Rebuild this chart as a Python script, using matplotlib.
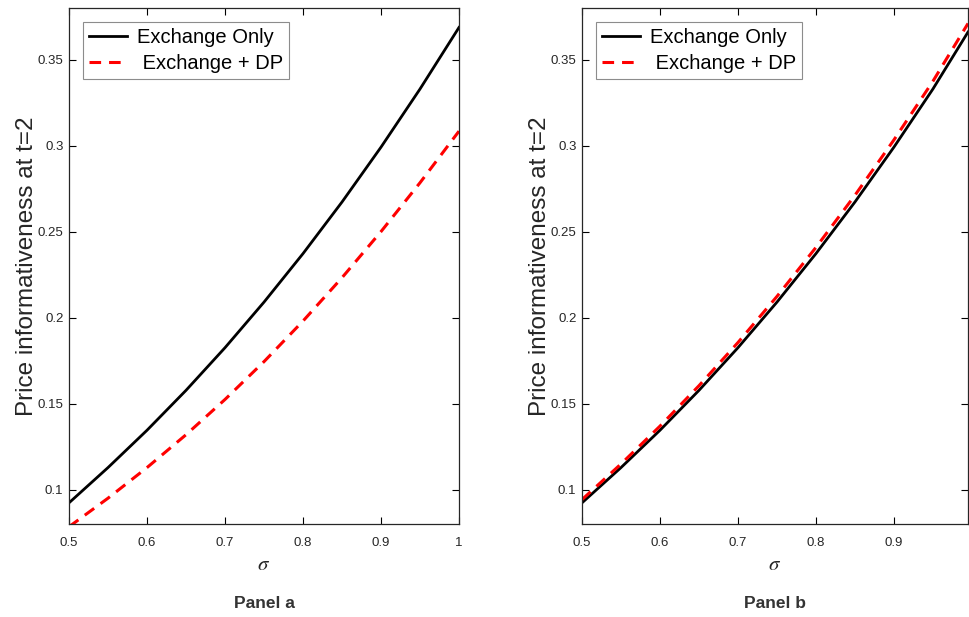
"""Price informativeness at t=2 versus sigma, two panels."""

import matplotlib
matplotlib.use("Agg")
import matplotlib.pyplot as plt

plt.rcParams["font.family"] = ["Liberation Sans", "DejaVu Sans"]
plt.rcParams["mathtext.fontset"] = "stix"

# values
sigma_a = [0.50, 0.55, 0.60, 0.65, 0.70, 0.75, 0.80, 0.85, 0.90, 0.95, 1.00]
exch_only_a = [0.0923, 0.1128, 0.1345, 0.1577, 0.1825, 0.2090, 0.2372,
               0.2672, 0.2991, 0.3329, 0.3687]
exch_dp_a = [0.0784, 0.0950, 0.1128, 0.1319, 0.1524, 0.1744, 0.1980,
             0.2232, 0.2500, 0.2784, 0.3084]

sigma_b = [0.50, 0.55, 0.60, 0.65, 0.70, 0.75, 0.80, 0.85, 0.90, 0.95, 0.995]
exch_only_b = [0.0923, 0.1128, 0.1345, 0.1577, 0.1825, 0.2090, 0.2372,
               0.2672, 0.2991, 0.3329, 0.3660]
exch_dp_b = [0.0942, 0.1149, 0.1369, 0.1604, 0.1855, 0.2123, 0.2408,
             0.2711, 0.3033, 0.3374, 0.3710]

yticks = [0.1, 0.15, 0.2, 0.25, 0.3, 0.35]
yticklabels = ["0.1", "0.15", "0.2", "0.25", "0.3", "0.35"]
xticks_a = [0.5, 0.6, 0.7, 0.8, 0.9, 1.0]
xticklabels_a = ["0.5", "0.6", "0.7", "0.8", "0.9", "1"]
xticks_b = [0.5, 0.6, 0.7, 0.8, 0.9]
xticklabels_b = ["0.5", "0.6", "0.7", "0.8", "0.9"]

W, H = 969, 617
fig = plt.figure(figsize=(W / 100, H / 100), dpi=100)


def panel(left, right, sig, y1, y2, xlim, xticks, xticklabels, name):
    ax = fig.add_axes([left / W, 1 - 524 / H, (right - left) / W, 516 / H])
    ax.plot(sig, y1, color="black", lw=2.0, label="Exchange Only",
            solid_joinstyle="round")
    ax.plot(sig, y2, color="#ff0000", lw=2.2, ls=(0, (3.8, 2.6)),
            label=" Exchange + DP")
    ax.set_xlim(*xlim)
    ax.set_ylim(0.08, 0.38)
    ax.set_xticks(xticks)
    ax.set_xticklabels(xticklabels)
    ax.set_yticks(yticks)
    ax.set_yticklabels(yticklabels)
    ax.tick_params(direction="in", length=5, width=0.8, top=True, right=True,
                   labelsize=9.5, labelcolor="#262626")
    ax.tick_params(axis="x", pad=9)
    ax.tick_params(axis="y", pad=4)
    for s in ax.spines.values():
        s.set_linewidth(0.9)
        s.set_color("#262626")
    ax.set_ylabel("Price informativeness at t=2", fontsize=17.5,
                  color="#262626", labelpad=0)
    ax.set_xlabel(r"$\sigma$", fontsize=15, color="#262626", labelpad=5)
    leg = ax.legend(loc="upper left", fontsize=14.5, frameon=True,
                    fancybox=False, edgecolor="#8c8c8c", framealpha=1,
                    handlelength=1.9, handletextpad=0.5, borderpad=0.28,
                    labelspacing=0.36, borderaxespad=0.7)
    leg.get_frame().set_linewidth(0.8)
    fig.text((left + right) / 2 / W, 1 - 603 / H, name, ha="center",
             va="center", fontsize=12.5, fontweight="bold", color="#333333")
    return ax


panel(69, 459, sigma_a, exch_only_a, exch_dp_a, (0.5, 1.0),
      xticks_a, xticklabels_a, "Panel a")
panel(582, 968, sigma_b, exch_only_b, exch_dp_b, (0.5, 0.995),
      xticks_b, xticklabels_b, "Panel b")

fig.savefig("out.png", dpi=100)
